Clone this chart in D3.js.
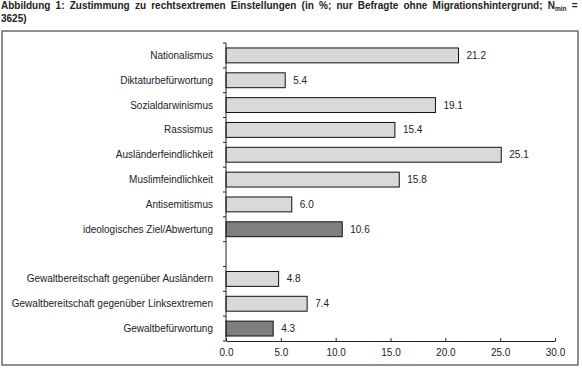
<!DOCTYPE html>
<html>
<head>
<meta charset="utf-8">
<script src="https://cdn.jsdelivr.net/npm/d3@7"></script>
<style>
    body { margin: 0; background: #fff; }
    text { font-family: "Liberation Sans", Arial, sans-serif; fill: #222; }
    .title { font-weight: bold; font-size: 10px; }
</style>
</head>
<body>
<svg id="vis" width="582" height="373"></svg>
<script>
// categories top to bottom, "" is the empty slot between the two groups
const categories = [
    "Nationalismus",
    "Diktaturbefürwortung",
    "Sozialdarwinismus",
    "Rassismus",
    "Ausländerfeindlichkeit",
    "Muslimfeindlichkeit",
    "Antisemitismus",
    "ideologisches Ziel/Abwertung",
    "",
    "Gewaltbereitschaft gegenüber Ausländern",
    "Gewaltbereitschaft gegenüber Linksextremen",
    "Gewaltbefürwortung"
];
const values = [21.2, 5.4, 19.1, 15.4, 25.1, 15.8, 6.0, 10.6, null, 4.8, 7.4, 4.3];
// summary bars are drawn darker
const summary = [false, false, false, false, false, false, false, true, false, false, false, true];
const xTicks = [0, 5, 10, 15, 20, 25, 30];

var width = 582,
    height = 373;

var plot = { left: 226, right: 555, top: 43, bottom: 341 };

var svg = d3.select("svg#vis");

// title, justified like in the document
var titleLine1 = svg.append("text").attr("class", "title").attr("x", 1).attr("y", 9);
titleLine1.append("tspan").text("Abbildung 1: Zustimmung zu rechtsextremen Einstellungen (in %; nur Befragte ohne Migrationshintergrund; N");
titleLine1.append("tspan").attr("font-size", "6.5px").attr("dy", 2).text("min");
titleLine1.append("tspan").attr("dy", -2).text(" =");

let natural = titleLine1.node().getComputedTextLength();
let spaces = 14;
titleLine1.attr("word-spacing", (579 - natural) / spaces);

svg.append("text").attr("class", "title").attr("x", 1).attr("y", 22).text("3625)");

// frame
svg.append("rect")
    .attr("x", 2)
    .attr("y", 31)
    .attr("width", 576)
    .attr("height", 334)
    .attr("fill", "none")
    .attr("stroke", "#555")
    .attr("stroke-width", 1.3);

var x = d3.scaleLinear().domain([0, 30]).range([plot.left, plot.right]);

var y = d3.scaleBand()
    .domain(d3.range(categories.length))
    .range([plot.top, plot.bottom])
    .paddingInner(0.4)
    .paddingOuter(0.2);

var rows = d3.range(categories.length).filter(i => values[i] !== null);

svg.append("g").selectAll("rect")
    .data(rows)
    .enter()
    .append("rect")
    .attr("x", x(0))
    .attr("y", i => y(i))
    .attr("width", i => x(values[i]) - x(0))
    .attr("height", y.bandwidth())
    .attr("fill", i => summary[i] ? "#7f7f7f" : "#d9d9d9")
    .attr("stroke", "#111")
    .attr("stroke-width", 1);

// value labels
svg.append("g").selectAll("text")
    .data(rows)
    .enter()
    .append("text")
    .attr("x", i => x(values[i]) + 8)
    .attr("y", i => y(i) + y.bandwidth() / 2)
    .attr("dy", "0.35em")
    .style("font-size", "10px")
    .text(i => values[i].toFixed(1));

// category labels
svg.append("g").selectAll("text")
    .data(rows)
    .enter()
    .append("text")
    .attr("x", 213)
    .attr("y", i => y(i) + y.bandwidth() / 2)
    .attr("dy", "0.35em")
    .attr("text-anchor", "end")
    .style("font-size", "10px")
    .text(i => categories[i]);

// y axis with ticks on the band borders
var yAxis = svg.append("g").attr("stroke", "#222");
yAxis.append("line")
    .attr("x1", x(0)).attr("x2", x(0))
    .attr("y1", plot.top).attr("y2", plot.bottom);

let gap = (y.step() - y.bandwidth()) / 2;
let borders = d3.range(categories.length).map(i => y(i) - gap).concat([plot.bottom]);
yAxis.selectAll("line.tick")
    .data(borders)
    .enter()
    .append("line")
    .attr("class", "tick")
    .attr("x1", x(0) - 3).attr("x2", x(0))
    .attr("y1", d => d).attr("y2", d => d);

// x axis, ticks point inside
var xAxis = d3.axisBottom(x)
    .tickValues(xTicks)
    .tickSize(-3)
    .tickSizeOuter(0)
    .tickPadding(8)
    .tickFormat(d3.format(".1f"));

var axisGroup = svg.append("g")
    .attr("transform", "translate(0," + plot.bottom + ")")
    .call(xAxis);

axisGroup.select(".domain").attr("stroke", "#222");
axisGroup.selectAll(".tick line").attr("stroke", "#222");
axisGroup.selectAll("text")
    .style("font-size", "10px")
    .style("font-family", "'Liberation Sans', Arial, sans-serif")
    .attr("fill", "#222");
</script>
</body>
</html>
